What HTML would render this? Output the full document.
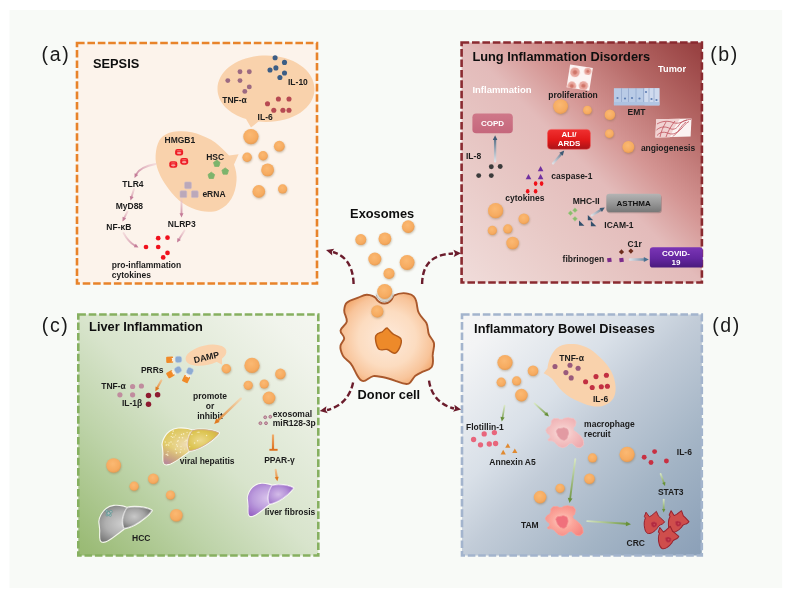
<!DOCTYPE html>
<html><head><meta charset="utf-8">
<style>
html,body{margin:0;padding:0;background:#fff;}
body{width:791px;height:596px;overflow:hidden;}
svg{display:block;filter:blur(0.35px);}
text{font-family:"Liberation Sans",sans-serif;}
.t{font-weight:700;font-size:12.8px;fill:#0e0e0e;}
.l{font-weight:700;font-size:8.5px;fill:#1c1c1c;}
.w{font-weight:700;font-size:8px;fill:#ffffff;text-anchor:middle;}
.p{font-size:19.5px;fill:#1a1a1a;letter-spacing:1.6px;}
</style></head><body>
<svg width="791" height="596" viewBox="0 0 791 596">
<defs>
<radialGradient id="ex" cx="0.45" cy="0.38" r="0.65">
 <stop offset="0" stop-color="#fbb973"/><stop offset="0.7" stop-color="#f6ab60"/><stop offset="1" stop-color="#e79a50"/>
</radialGradient>
<filter id="sh" x="-40%" y="-40%" width="180%" height="180%"><feGaussianBlur stdDeviation="0.8"/></filter>
<filter id="b1" x="-30%" y="-30%" width="160%" height="160%"><feGaussianBlur stdDeviation="0.45"/></filter>
<filter id="b2" x="-30%" y="-30%" width="160%" height="160%"><feGaussianBlur stdDeviation="1.2"/></filter>
<linearGradient id="gb" x1="0" y1="1" x2="1" y2="0">
 <stop offset="0" stop-color="#f0dcda"/><stop offset="0.285" stop-color="#e8c9c6"/><stop offset="0.5" stop-color="#e3bbba"/><stop offset="0.63" stop-color="#d49593"/><stop offset="0.725" stop-color="#c47e7c"/><stop offset="0.807" stop-color="#b56866"/><stop offset="0.97" stop-color="#9a4444"/><stop offset="1" stop-color="#964040"/>
</linearGradient>
<linearGradient id="gc" x1="0" y1="1" x2="1" y2="0">
 <stop offset="0" stop-color="#98b972"/><stop offset="0.04" stop-color="#9cbc78"/><stop offset="0.285" stop-color="#bdd3a8"/><stop offset="0.5" stop-color="#d8e4cc"/><stop offset="0.9" stop-color="#f1f4ec"/><stop offset="1" stop-color="#f4f6f0"/>
</linearGradient>
<linearGradient id="gd" x1="0" y1="0" x2="1" y2="1">
 <stop offset="0" stop-color="#f6f6f6"/><stop offset="0.09" stop-color="#f3f4f5"/><stop offset="0.356" stop-color="#d9e0e8"/><stop offset="0.5" stop-color="#c2ccd8"/><stop offset="0.75" stop-color="#a3b4c5"/><stop offset="0.955" stop-color="#8fa3ba"/><stop offset="1" stop-color="#8ba0b8"/>
</linearGradient>
<radialGradient id="gcell" cx="0.5" cy="0.5" r="0.56">
 <stop offset="0" stop-color="#fdeadb"/><stop offset="0.55" stop-color="#fcdcc0"/><stop offset="0.85" stop-color="#f8c49a"/><stop offset="1" stop-color="#f3ac74"/>
</radialGradient>
<linearGradient id="ar1" gradientUnits="userSpaceOnUse" x1="155.5" y1="164.0" x2="134.5" y2="178.0"><stop offset="0" stop-color="#ecc4cc" stop-opacity="0.5"/><stop offset="1" stop-color="#c47c98"/></linearGradient>
<linearGradient id="ar1h" gradientUnits="userSpaceOnUse" x1="155.5" y1="164.0" x2="134.5" y2="178.0"><stop offset="0" stop-color="#c47c98"/><stop offset="1" stop-color="#c47c98"/></linearGradient>
<linearGradient id="ar2" gradientUnits="userSpaceOnUse" x1="134.0" y1="189.0" x2="130.5" y2="200.5"><stop offset="0" stop-color="#ecc4cc" stop-opacity="0.5"/><stop offset="1" stop-color="#c47c98"/></linearGradient>
<linearGradient id="ar2h" gradientUnits="userSpaceOnUse" x1="134.0" y1="189.0" x2="130.5" y2="200.5"><stop offset="0" stop-color="#c47c98"/><stop offset="1" stop-color="#c47c98"/></linearGradient>
<linearGradient id="ar3" gradientUnits="userSpaceOnUse" x1="127.5" y1="211.5" x2="122.5" y2="221.5"><stop offset="0" stop-color="#ecc4cc" stop-opacity="0.5"/><stop offset="1" stop-color="#c47c98"/></linearGradient>
<linearGradient id="ar3h" gradientUnits="userSpaceOnUse" x1="127.5" y1="211.5" x2="122.5" y2="221.5"><stop offset="0" stop-color="#c47c98"/><stop offset="1" stop-color="#c47c98"/></linearGradient>
<linearGradient id="ar4" gradientUnits="userSpaceOnUse" x1="123.5" y1="233.0" x2="138.5" y2="247.5"><stop offset="0" stop-color="#ecc4cc" stop-opacity="0.5"/><stop offset="1" stop-color="#c47c98"/></linearGradient>
<linearGradient id="ar4h" gradientUnits="userSpaceOnUse" x1="123.5" y1="233.0" x2="138.5" y2="247.5"><stop offset="0" stop-color="#c47c98"/><stop offset="1" stop-color="#c47c98"/></linearGradient>
<linearGradient id="ar5" gradientUnits="userSpaceOnUse" x1="181.5" y1="199.0" x2="181.5" y2="217.5"><stop offset="0" stop-color="#ecc4cc" stop-opacity="0.5"/><stop offset="1" stop-color="#c47c98"/></linearGradient>
<linearGradient id="ar5h" gradientUnits="userSpaceOnUse" x1="181.5" y1="199.0" x2="181.5" y2="217.5"><stop offset="0" stop-color="#c47c98"/><stop offset="1" stop-color="#c47c98"/></linearGradient>
<linearGradient id="ar6" gradientUnits="userSpaceOnUse" x1="184.5" y1="230.5" x2="177.0" y2="242.5"><stop offset="0" stop-color="#ecc4cc" stop-opacity="0.5"/><stop offset="1" stop-color="#c47c98"/></linearGradient>
<linearGradient id="ar6h" gradientUnits="userSpaceOnUse" x1="184.5" y1="230.5" x2="177.0" y2="242.5"><stop offset="0" stop-color="#c47c98"/><stop offset="1" stop-color="#c47c98"/></linearGradient>
<linearGradient id="ar7" gradientUnits="userSpaceOnUse" x1="495.1" y1="161.5" x2="495.1" y2="135.2"><stop offset="0" stop-color="#dde7ee" stop-opacity="0.8"/><stop offset="1" stop-color="#3f5a74"/></linearGradient>
<linearGradient id="ar7h" gradientUnits="userSpaceOnUse" x1="495.1" y1="161.5" x2="495.1" y2="135.2"><stop offset="0" stop-color="#3f5a74"/><stop offset="1" stop-color="#3f5a74"/></linearGradient>
<linearGradient id="ar8" gradientUnits="userSpaceOnUse" x1="553.0" y1="163.5" x2="564.2" y2="150.6"><stop offset="0" stop-color="#dde7ee" stop-opacity="0.8"/><stop offset="1" stop-color="#3f5a74"/></linearGradient>
<linearGradient id="ar8h" gradientUnits="userSpaceOnUse" x1="553.0" y1="163.5" x2="564.2" y2="150.6"><stop offset="0" stop-color="#3f5a74"/><stop offset="1" stop-color="#3f5a74"/></linearGradient>
<linearGradient id="ar9" gradientUnits="userSpaceOnUse" x1="591.7" y1="215.4" x2="604.8" y2="207.4"><stop offset="0" stop-color="#dde7ee" stop-opacity="0.8"/><stop offset="1" stop-color="#3f5a74"/></linearGradient>
<linearGradient id="ar9h" gradientUnits="userSpaceOnUse" x1="591.7" y1="215.4" x2="604.8" y2="207.4"><stop offset="0" stop-color="#3f5a74"/><stop offset="1" stop-color="#3f5a74"/></linearGradient>
<linearGradient id="ar10" gradientUnits="userSpaceOnUse" x1="630.0" y1="259.5" x2="648.8" y2="259.5"><stop offset="0" stop-color="#dbe6ee" stop-opacity="0.85"/><stop offset="1" stop-color="#4a7090"/></linearGradient>
<linearGradient id="ar10h" gradientUnits="userSpaceOnUse" x1="630.0" y1="259.5" x2="648.8" y2="259.5"><stop offset="0" stop-color="#4a7090"/><stop offset="1" stop-color="#4a7090"/></linearGradient>
<linearGradient id="ar11" gradientUnits="userSpaceOnUse" x1="161.3" y1="380.5" x2="155.3" y2="391.3"><stop offset="0" stop-color="#f3c08a" stop-opacity="0.9"/><stop offset="1" stop-color="#e07a20"/></linearGradient>
<linearGradient id="ar11h" gradientUnits="userSpaceOnUse" x1="161.3" y1="380.5" x2="155.3" y2="391.3"><stop offset="0" stop-color="#e07a20"/><stop offset="1" stop-color="#e07a20"/></linearGradient>
<linearGradient id="ar12" gradientUnits="userSpaceOnUse" x1="240.8" y1="398.6" x2="214.2" y2="423.9"><stop offset="0" stop-color="#f6d4aa" stop-opacity="0.8"/><stop offset="1" stop-color="#e07a20"/></linearGradient>
<linearGradient id="ar12h" gradientUnits="userSpaceOnUse" x1="240.8" y1="398.6" x2="214.2" y2="423.9"><stop offset="0" stop-color="#e07a20"/><stop offset="1" stop-color="#e07a20"/></linearGradient>
<linearGradient id="ar13" gradientUnits="userSpaceOnUse" x1="275.7" y1="469.8" x2="277.3" y2="481.2"><stop offset="0" stop-color="#f3c08a" stop-opacity="0.9"/><stop offset="1" stop-color="#e07a20"/></linearGradient>
<linearGradient id="ar13h" gradientUnits="userSpaceOnUse" x1="275.7" y1="469.8" x2="277.3" y2="481.2"><stop offset="0" stop-color="#e07a20"/><stop offset="1" stop-color="#e07a20"/></linearGradient>
<linearGradient id="ar14" gradientUnits="userSpaceOnUse" x1="504.6" y1="405.5" x2="501.8" y2="421.6"><stop offset="0" stop-color="#d8e8c0" stop-opacity="0.9"/><stop offset="1" stop-color="#67903a"/></linearGradient>
<linearGradient id="ar14h" gradientUnits="userSpaceOnUse" x1="504.6" y1="405.5" x2="501.8" y2="421.6"><stop offset="0" stop-color="#67903a"/><stop offset="1" stop-color="#67903a"/></linearGradient>
<linearGradient id="ar15" gradientUnits="userSpaceOnUse" x1="534.5" y1="403.4" x2="549.0" y2="416.5"><stop offset="0" stop-color="#d8e8c0" stop-opacity="0.9"/><stop offset="1" stop-color="#67903a"/></linearGradient>
<linearGradient id="ar15h" gradientUnits="userSpaceOnUse" x1="534.5" y1="403.4" x2="549.0" y2="416.5"><stop offset="0" stop-color="#67903a"/><stop offset="1" stop-color="#67903a"/></linearGradient>
<linearGradient id="ar16" gradientUnits="userSpaceOnUse" x1="575.3" y1="459.2" x2="569.5" y2="503.0"><stop offset="0" stop-color="#d8e8c0" stop-opacity="0.9"/><stop offset="1" stop-color="#67903a"/></linearGradient>
<linearGradient id="ar16h" gradientUnits="userSpaceOnUse" x1="575.3" y1="459.2" x2="569.5" y2="503.0"><stop offset="0" stop-color="#67903a"/><stop offset="1" stop-color="#67903a"/></linearGradient>
<linearGradient id="ar17" gradientUnits="userSpaceOnUse" x1="587.2" y1="521.1" x2="631.0" y2="524.2"><stop offset="0" stop-color="#d8e8c0" stop-opacity="0.9"/><stop offset="1" stop-color="#67903a"/></linearGradient>
<linearGradient id="ar17h" gradientUnits="userSpaceOnUse" x1="587.2" y1="521.1" x2="631.0" y2="524.2"><stop offset="0" stop-color="#67903a"/><stop offset="1" stop-color="#67903a"/></linearGradient>
<linearGradient id="ar18" gradientUnits="userSpaceOnUse" x1="660.6" y1="473.9" x2="665.0" y2="485.9"><stop offset="0" stop-color="#d8e8c0" stop-opacity="0.9"/><stop offset="1" stop-color="#67903a"/></linearGradient>
<linearGradient id="ar18h" gradientUnits="userSpaceOnUse" x1="660.6" y1="473.9" x2="665.0" y2="485.9"><stop offset="0" stop-color="#67903a"/><stop offset="1" stop-color="#67903a"/></linearGradient>
<linearGradient id="ar19" gradientUnits="userSpaceOnUse" x1="663.7" y1="499.6" x2="663.7" y2="512.5"><stop offset="0" stop-color="#d8e8c0" stop-opacity="0.9"/><stop offset="1" stop-color="#67903a"/></linearGradient>
<linearGradient id="ar19h" gradientUnits="userSpaceOnUse" x1="663.7" y1="499.6" x2="663.7" y2="512.5"><stop offset="0" stop-color="#67903a"/><stop offset="1" stop-color="#67903a"/></linearGradient>
</defs>
<!-- page bg -->
<rect x="0" y="0" width="791" height="596" fill="#ffffff"/>
<rect x="9.5" y="10" width="772.7" height="578" fill="#f8faf7"/>

<!-- PANELS -->
<rect x="77" y="43" width="240" height="240.5" fill="#fcf3eb" stroke="#e8832a" stroke-width="2.6" stroke-dasharray="7.6 2.8"/>
<rect x="461.6" y="42.5" width="240.3" height="240" fill="url(#gb)" stroke="#8a2a30" stroke-width="2.6" stroke-dasharray="7.6 2.8"/>
<rect x="78.3" y="314.5" width="240" height="241" fill="url(#gc)" stroke="#86b060" stroke-width="2.6" stroke-dasharray="7.6 2.8"/>
<rect x="462" y="314.5" width="239.8" height="241" fill="url(#gd)" stroke="#a3b4cd" stroke-width="2.6" stroke-dasharray="7.6 2.8"/>

<!-- PANEL LETTERS -->
<text class="p" x="41.6" y="61.3">(a)</text>
<text class="p" x="710.2" y="60.8">(b)</text>
<text class="p" x="41.8" y="332.1">(c)</text>
<text class="p" x="712.2" y="332.2">(d)</text>

<!-- TITLES -->
<text class="t" x="93" y="67.5">SEPSIS</text>
<text class="t" x="472.4" y="61.1">Lung Inflammation Disorders</text>
<text class="t" x="89.1" y="331.2">Liver Inflammation</text>
<text class="t" x="474.1" y="333">Inflammatory Bowel Diseases</text>
<text class="t" x="350.1" y="217.8">Exosomes</text>
<text class="t" x="357.6" y="398.8">Donor cell</text>

<!-- center -->
<path d="M353.6,284 C353,266 346,256 333,252" fill="none" stroke="#6b1c2c" stroke-width="2.4" stroke-dasharray="6 3"/>
<path d="M0.5,0 L-7,-3.6 L-5.6,0 L-7,3.6Z" fill="#6b1c2c" transform="translate(326.5,250.2) rotate(196)"/>
<path d="M422.1,284 C422.5,264 432,254.5 453,253.5" fill="none" stroke="#6b1c2c" stroke-width="2.4" stroke-dasharray="6 3"/>
<path d="M0.5,0 L-7,-3.6 L-5.6,0 L-7,3.6Z" fill="#6b1c2c" transform="translate(460.6,253.2) rotate(-2)"/>
<path d="M353.1,382.4 C350,398 340,407 327,410" fill="none" stroke="#6b1c2c" stroke-width="2.4" stroke-dasharray="6 3"/>
<path d="M0.5,0 L-7,-3.6 L-5.6,0 L-7,3.6Z" fill="#6b1c2c" transform="translate(320.2,411) rotate(170)"/>
<path d="M429,380.6 C431,395 440,405 454,408.5" fill="none" stroke="#6b1c2c" stroke-width="2.4" stroke-dasharray="6 3"/>
<path d="M0.5,0 L-7,-3.6 L-5.6,0 L-7,3.6Z" fill="#6b1c2c" transform="translate(460.6,409.5) rotate(10)"/>
<ellipse cx="408.6" cy="227.6" rx="6.3" ry="6.3" fill="#8a6a40" opacity="0.45" filter="url(#sh)"/>
<circle cx="408.2" cy="226.6" r="6.3" fill="url(#ex)"/>
<ellipse cx="361.2" cy="240.6" rx="5.5" ry="5.5" fill="#8a6a40" opacity="0.45" filter="url(#sh)"/>
<circle cx="360.8" cy="239.6" r="5.5" fill="url(#ex)"/>
<ellipse cx="385.3" cy="239.8" rx="6.4" ry="6.4" fill="#8a6a40" opacity="0.45" filter="url(#sh)"/>
<circle cx="384.9" cy="238.8" r="6.4" fill="url(#ex)"/>
<ellipse cx="375.2" cy="260.0" rx="6.5" ry="6.5" fill="#8a6a40" opacity="0.45" filter="url(#sh)"/>
<circle cx="374.8" cy="259.0" r="6.5" fill="url(#ex)"/>
<ellipse cx="407.5" cy="263.5" rx="7.4" ry="7.4" fill="#8a6a40" opacity="0.45" filter="url(#sh)"/>
<circle cx="407.1" cy="262.5" r="7.4" fill="url(#ex)"/>
<ellipse cx="389.4" cy="274.4" rx="5.5" ry="5.5" fill="#8a6a40" opacity="0.45" filter="url(#sh)"/>
<circle cx="389.0" cy="273.4" r="5.5" fill="url(#ex)"/>
<path d="M375.9,298.2 C378,302 381,303.5 384.7,303.5 C389,303.5 392,300 393.6,295.7 C398,293.5 404,292.5 408.7,293.9 C414,295 415.5,298 416.3,301.5 C417.5,306 417,309.5 418.8,312.9 C421,317.5 424.5,319.5 426.4,323 C428.5,327 427.5,331 428.9,334.4 C430.3,338 433.3,339.8 434,343.2 C434.8,347.5 432.5,351.5 432.7,355.9 C433,360 433.8,364 431.5,367.2 C429,370.5 424.8,370.6 421.4,372.3 C418.8,373.4 417,374.5 415,376.1 C412.5,378.5 411.5,382.5 408.7,383.7 C404.5,385 400,382.5 396.1,381.1 C392,379.6 387.5,377.9 383.4,377.3 C380,376.8 376.5,375.6 373.3,376.1 C369.5,376.8 366.5,381 363.2,381.1 C360,381 358.3,377.4 356.9,374.8 C354.8,371 353.2,366.6 350.6,363.4 C348.4,360.7 344.6,358.9 343,355.9 C341.4,352.8 339.9,349 340.5,345.7 C341,342.9 344.2,340.8 344.2,338.2 C344.2,335.5 340.2,333.3 340.5,330.6 C340.9,327.2 346.2,325 346.8,321.7 C347.5,318 343.9,314 344.2,310.3 C344.4,307.6 344.8,304.6 346.8,302.8 C349.8,300 354.5,299.2 358.2,297.7 C361,296.5 364,294.5 367,294.7 C370.2,294.9 373.5,295.5 375.9,298.2Z" fill="url(#gcell)" stroke="#a9582c" stroke-width="1.9" stroke-linejoin="round"/>
<path d="M387.2,328 C389.5,330 391,332.8 393.6,334.4 C396,335.9 400.3,336.8 401.1,339.4 C401.9,341.8 400.9,344.6 399.9,347 C398.8,349.5 397.3,353 394.8,353.3 C392,353.6 389.8,350 387.2,349.5 C384.7,349 381.7,350.6 379.6,349.5 C377.4,348.3 376.4,344.5 375.9,342 C375.5,340 375,337.3 375.9,335.6 C377.2,333.2 380.2,332.7 382.2,331.8 C384,330.9 385.5,327.5 387.2,328Z" fill="#ed8a2a" stroke="#b35a1a" stroke-width="1.4" stroke-linejoin="round"/>
<path d="M376.2,293.6 A8.7,8.7 0 0 0 393.2,293.6" fill="none" stroke="#e9e6e0" stroke-width="2.2"/>
<path d="M376.2,293.6 A8.7,8.7 0 0 0 393.2,293.6" fill="none" stroke="#9a8f86" stroke-width="0.6" transform="translate(0,1.2)"/>
<ellipse cx="385.1" cy="292.5" rx="7.5" ry="7.5" fill="#8a6a40" opacity="0.45" filter="url(#sh)"/>
<circle cx="384.7" cy="291.5" r="7.5" fill="url(#ex)"/>
<ellipse cx="377.7" cy="312.4" rx="6.1" ry="6.1" fill="#8a6a40" opacity="0.45" filter="url(#sh)"/>
<circle cx="377.3" cy="311.4" r="6.1" fill="url(#ex)"/>
<!-- panel a -->
<path d="M217.5,89 C217.5,70 239,55.5 266,55.5 C293,55.5 314.5,70 314.5,89 C314.5,108 293,122 266,122 C263.5,122 261,121.9 258.5,121.6 L251,127.4 L246,119 C229,114 217.5,102.5 217.5,89Z" fill="#f9d2ac"/>
<path d="M175.9,131.5 C185,130.5 194,132 201.1,135.3 C208.5,138 214.5,141.5 218.8,145.4 C222.5,148.5 226,152 229,155.5 L238.6,154.2 L234,164.4 C236,170 237,175.5 236.5,180.8 C236,187.5 234.5,193.5 231.5,198.5 C228.5,203.5 224.5,207.5 218.8,209.9 C213.5,212.3 207,212.2 201.1,211.1 C194.5,209.8 188.5,207.2 183.4,203.6 C177.5,199.5 172.5,194.2 168.3,188.4 C164.2,183 160.5,177 158.2,170.7 C156.4,165.8 155.2,160.5 155.6,155.5 C156,150 157,144.5 159.4,140.3 C163,134.5 169.5,132.2 175.9,131.5Z" fill="#f9d2ac"/>
<ellipse cx="251.3" cy="137.6" rx="7.6" ry="7.6" fill="#8a6a40" opacity="0.45" filter="url(#sh)"/>
<circle cx="250.9" cy="136.6" r="7.6" fill="url(#ex)"/>
<ellipse cx="279.7" cy="147.2" rx="5.4" ry="5.4" fill="#8a6a40" opacity="0.45" filter="url(#sh)"/>
<circle cx="279.3" cy="146.2" r="5.4" fill="url(#ex)"/>
<ellipse cx="247.5" cy="158.3" rx="4.7" ry="4.7" fill="#8a6a40" opacity="0.45" filter="url(#sh)"/>
<circle cx="247.1" cy="157.3" r="4.7" fill="url(#ex)"/>
<ellipse cx="263.5" cy="156.8" rx="4.7" ry="4.7" fill="#8a6a40" opacity="0.45" filter="url(#sh)"/>
<circle cx="263.1" cy="155.8" r="4.7" fill="url(#ex)"/>
<ellipse cx="268.0" cy="170.9" rx="6.4" ry="6.4" fill="#8a6a40" opacity="0.45" filter="url(#sh)"/>
<circle cx="267.6" cy="169.9" r="6.4" fill="url(#ex)"/>
<ellipse cx="259.2" cy="192.4" rx="6.3" ry="6.3" fill="#8a6a40" opacity="0.45" filter="url(#sh)"/>
<circle cx="258.8" cy="191.4" r="6.3" fill="url(#ex)"/>
<ellipse cx="283.0" cy="189.9" rx="4.6" ry="4.6" fill="#8a6a40" opacity="0.45" filter="url(#sh)"/>
<circle cx="282.6" cy="188.9" r="4.6" fill="url(#ex)"/>
<g fill="#9c6a82"><circle cx="240.0" cy="71.7" r="2.45"/><circle cx="249.3" cy="71.7" r="2.45"/><circle cx="227.8" cy="80.6" r="2.45"/><circle cx="240.0" cy="80.6" r="2.45"/><circle cx="249.3" cy="86.9" r="2.45"/><circle cx="244.8" cy="91.4" r="2.45"/></g>
<g fill="#3c5d85"><circle cx="275.1" cy="57.8" r="2.55"/><circle cx="284.5" cy="62.4" r="2.55"/><circle cx="270.0" cy="70.0" r="2.55"/><circle cx="275.9" cy="67.9" r="2.55"/><circle cx="284.5" cy="73.0" r="2.55"/><circle cx="279.9" cy="77.5" r="2.55"/></g>
<g fill="#b74a52"><circle cx="278.4" cy="99.0" r="2.55"/><circle cx="289.0" cy="99.0" r="2.55"/><circle cx="267.5" cy="103.8" r="2.55"/><circle cx="273.8" cy="110.2" r="2.55"/><circle cx="282.9" cy="110.2" r="2.55"/><circle cx="289.0" cy="110.2" r="2.55"/></g>
<text class="l" x="288.0" y="85.0">IL-10</text>
<text class="l" x="222.2" y="103.3">TNF-α</text>
<text class="l" x="257.6" y="119.8">IL-6</text>
<text class="l" x="164.5" y="143.4">HMGB1</text>
<text class="l" x="206.2" y="159.8">HSC</text>
<text class="l" x="202.4" y="196.5">eRNA</text>
<text class="l" x="122.3" y="186.6">TLR4</text>
<text class="l" x="115.7" y="208.6">MyD88</text>
<text class="l" x="106.3" y="229.6">NF-κB</text>
<text class="l" x="167.8" y="227.0">NLRP3</text>
<text class="l" x="111.8" y="267.5">pro-inflammation</text>
<text class="l" x="111.8" y="277.6">cytokines</text>
<g transform="translate(179.1,152.2)"><rect x="-4" y="-3.2" width="8" height="6.6" rx="2.4" fill="#ee1c24"/><ellipse cx="0" cy="0.9" rx="2.3" ry="1.1" fill="#f7a29c"/><ellipse cx="0" cy="-1.5" rx="2.6" ry="0.7" fill="#f4605c"/></g>
<g transform="translate(184.2,161.3)"><rect x="-4" y="-3.2" width="8" height="6.6" rx="2.4" fill="#ee1c24"/><ellipse cx="0" cy="0.9" rx="2.3" ry="1.1" fill="#f7a29c"/><ellipse cx="0" cy="-1.5" rx="2.6" ry="0.7" fill="#f4605c"/></g>
<g transform="translate(173.3,164.4)"><rect x="-4" y="-3.2" width="8" height="6.6" rx="2.4" fill="#ee1c24"/><ellipse cx="0" cy="0.9" rx="2.3" ry="1.1" fill="#f7a29c"/><ellipse cx="0" cy="-1.5" rx="2.6" ry="0.7" fill="#f4605c"/></g>
<polygon points="216.8,160.1 220.1,162.5 218.9,166.4 214.7,166.4 213.5,162.5" fill="#7db46c" stroke="#7db46c" stroke-width="0.8" stroke-linejoin="round" filter="url(#b1)"/>
<polygon points="225.2,167.9 228.5,170.3 227.3,174.2 223.1,174.2 221.9,170.3" fill="#7db46c" stroke="#7db46c" stroke-width="0.8" stroke-linejoin="round" filter="url(#b1)"/>
<polygon points="211.3,172.2 214.6,174.6 213.4,178.5 209.2,178.5 208.0,174.6" fill="#7db46c" stroke="#7db46c" stroke-width="0.8" stroke-linejoin="round" filter="url(#b1)"/>
<rect x="184.6" y="181.9" width="6.8" height="6.8" rx="1.2" fill="#bba8ba" stroke="#cbbac8" stroke-width="0.6" filter="url(#b1)"/>
<rect x="180.0" y="190.79999999999998" width="6.8" height="6.8" rx="1.2" fill="#bba8ba" stroke="#cbbac8" stroke-width="0.6" filter="url(#b1)"/>
<rect x="191.4" y="190.79999999999998" width="6.8" height="6.8" rx="1.2" fill="#bba8ba" stroke="#cbbac8" stroke-width="0.6" filter="url(#b1)"/>
<g fill="#f0101c"><circle cx="158.2" cy="238.2" r="2.35"/><circle cx="167.5" cy="237.7" r="2.35"/><circle cx="146.0" cy="247.0" r="2.35"/><circle cx="158.2" cy="247.0" r="2.35"/><circle cx="167.5" cy="252.9" r="2.35"/><circle cx="163.2" cy="257.4" r="2.35"/></g>
<path d="M155.5,164.0 Q140.0,167.0 136.4,174.2" fill="none" stroke="url(#ar1)" stroke-width="1.9" stroke-linecap="round"/>
<path d="M134.5,178.0 L134.6,173.3 L138.2,175.1Z" fill="url(#ar1h)"/>
<path d="M134.0,189.0 L131.7,196.5" fill="none" stroke="url(#ar2)" stroke-width="1.9" stroke-linecap="round"/>
<path d="M130.5,200.5 L129.8,195.9 L133.7,197.1Z" fill="url(#ar2h)"/>
<path d="M127.5,211.5 L124.4,217.7" fill="none" stroke="url(#ar3)" stroke-width="1.9" stroke-linecap="round"/>
<path d="M122.5,221.5 L122.6,216.8 L126.2,218.6Z" fill="url(#ar3h)"/>
<path d="M123.5,233.0 Q128.5,242.0 134.8,245.5" fill="none" stroke="url(#ar4)" stroke-width="1.9" stroke-linecap="round"/>
<path d="M138.5,247.5 L133.8,247.2 L135.8,243.7Z" fill="url(#ar4h)"/>
<path d="M181.5,199.0 L181.5,213.3" fill="none" stroke="url(#ar5)" stroke-width="1.9" stroke-linecap="round"/>
<path d="M181.5,217.5 L179.5,213.3 L183.5,213.3Z" fill="url(#ar5h)"/>
<path d="M184.5,230.5 L179.2,238.9" fill="none" stroke="url(#ar6)" stroke-width="1.9" stroke-linecap="round"/>
<path d="M177.0,242.5 L177.5,237.9 L180.9,240.0Z" fill="url(#ar6h)"/>
<!-- panel b -->
<text class="l" x="472.4" y="93.2" style="fill:#ffffff;font-size:9.5px">Inflammation</text>
<text class="l" x="658.1" y="71.7" style="fill:#ffffff;font-size:9.2px">Tumor</text>
<text class="l" x="548.2" y="97.8">proliferation</text>
<text class="l" x="627.5" y="115.2">EMT</text>
<text class="l" x="640.9" y="150.9">angiogenesis</text>
<text class="l" x="466.0" y="159.3">IL-8</text>
<text class="l" x="551.3" y="178.5">caspase-1</text>
<text class="l" x="505.2" y="201.1">cytokines</text>
<text class="l" x="572.7" y="203.5">MHC-II</text>
<text class="l" x="604.3" y="228.4">ICAM-1</text>
<text class="l" x="562.6" y="261.8">fibrinogen</text>
<text class="l" x="627.6" y="247.3">C1r</text>
<ellipse cx="561.0" cy="107.6" rx="7.4" ry="7.4" fill="#8a6a40" opacity="0.45" filter="url(#sh)"/>
<circle cx="560.6" cy="106.6" r="7.4" fill="url(#ex)"/>
<ellipse cx="587.8" cy="111.2" rx="4.4" ry="4.4" fill="#8a6a40" opacity="0.45" filter="url(#sh)"/>
<circle cx="587.4" cy="110.2" r="4.4" fill="url(#ex)"/>
<ellipse cx="610.3" cy="115.7" rx="5.3" ry="5.3" fill="#8a6a40" opacity="0.45" filter="url(#sh)"/>
<circle cx="609.9" cy="114.7" r="5.3" fill="url(#ex)"/>
<ellipse cx="609.8" cy="134.7" rx="4.4" ry="4.4" fill="#8a6a40" opacity="0.45" filter="url(#sh)"/>
<circle cx="609.4" cy="133.7" r="4.4" fill="url(#ex)"/>
<ellipse cx="628.8" cy="147.9" rx="6.0" ry="6.0" fill="#8a6a40" opacity="0.45" filter="url(#sh)"/>
<circle cx="628.4" cy="146.9" r="6.0" fill="url(#ex)"/>
<ellipse cx="496.0" cy="211.7" rx="7.6" ry="7.6" fill="#8a6a40" opacity="0.45" filter="url(#sh)"/>
<circle cx="495.6" cy="210.7" r="7.6" fill="url(#ex)"/>
<ellipse cx="524.3" cy="219.8" rx="5.4" ry="5.4" fill="#8a6a40" opacity="0.45" filter="url(#sh)"/>
<circle cx="523.9" cy="218.8" r="5.4" fill="url(#ex)"/>
<ellipse cx="492.7" cy="231.4" rx="4.6" ry="4.6" fill="#8a6a40" opacity="0.45" filter="url(#sh)"/>
<circle cx="492.3" cy="230.4" r="4.6" fill="url(#ex)"/>
<ellipse cx="508.2" cy="229.9" rx="4.6" ry="4.6" fill="#8a6a40" opacity="0.45" filter="url(#sh)"/>
<circle cx="507.8" cy="228.9" r="4.6" fill="url(#ex)"/>
<ellipse cx="513.0" cy="244.0" rx="6.3" ry="6.3" fill="#8a6a40" opacity="0.45" filter="url(#sh)"/>
<circle cx="512.6" cy="243.0" r="6.3" fill="url(#ex)"/>
<defs><linearGradient id="gcopd" x1="0" y1="0" x2="0" y2="1"><stop offset="0" stop-color="#cf7889"/><stop offset="1" stop-color="#c5677c"/></linearGradient><linearGradient id="gali" x1="0" y1="0" x2="0" y2="1"><stop offset="0" stop-color="#f03030"/><stop offset="0.55" stop-color="#e01818"/><stop offset="1" stop-color="#a81418"/></linearGradient><linearGradient id="gast" x1="0" y1="0" x2="0" y2="1"><stop offset="0" stop-color="#b4b4b4"/><stop offset="0.5" stop-color="#989898"/><stop offset="1" stop-color="#787878"/></linearGradient><linearGradient id="gcov" x1="0" y1="0" x2="0" y2="1"><stop offset="0" stop-color="#7a35b5"/><stop offset="0.55" stop-color="#6426a0"/><stop offset="1" stop-color="#4a1a7c"/></linearGradient></defs>
<rect x="472.4" y="113.4" width="40.4" height="19.8" rx="3.8" fill="url(#gcopd)"/>
<text class="w" x="492.6" y="126.4">COPD</text>
<rect x="547.5" y="129.4" width="42.9" height="19.9" rx="3.8" fill="url(#gali)" stroke="#f25a5a" stroke-width="0.5"/>
<text class="w" x="569.0" y="137.2">ALI/</text>
<text class="w" x="569.0" y="145.8">ARDS</text>
<rect x="607" y="195" width="54.8" height="18.2" rx="3" fill="#555" opacity="0.35" filter="url(#b1)"/>
<rect x="606.3" y="193.8" width="54.8" height="18.2" rx="3" fill="url(#gast)"/>
<text class="w" x="633.7" y="205.9" style="fill:#111">ASTHMA</text>
<rect x="649.8" y="247.3" width="53" height="20.3" rx="3.2" fill="url(#gcov)"/>
<text class="w" x="676.0" y="256.0">COVID-</text>
<text class="w" x="676.0" y="264.6">19</text>
<g transform="translate(579.7,77.6) rotate(9)"><clipPath id="cpp"><rect x="-11.5" y="-11.5" width="23" height="23"/></clipPath><rect x="-11.5" y="-11.5" width="23" height="23" fill="#fcf4f3"/><g clip-path="url(#cpp)"><g fill="#e9a79e" filter="url(#b1)"><circle cx="-5.5" cy="-4.5" r="4.8"/><circle cx="7" cy="-7.5" r="3.6"/><circle cx="-6.5" cy="9.5" r="4.4"/><circle cx="5" cy="7.5" r="4.6"/></g><g fill="#cf7468" filter="url(#b1)"><circle cx="-5.5" cy="-4.5" r="2.2"/><circle cx="7" cy="-7.5" r="1.6"/><circle cx="-6.5" cy="9.5" r="2"/><circle cx="5" cy="7.5" r="2.1"/></g></g></g>
<g><rect x="613.9" y="88.2" width="45.5" height="17.1" fill="#b9cbe6"/><rect x="644.5" y="88.2" width="14.9" height="17.1" fill="#cfdaee"/><rect x="613.9" y="102" width="45.5" height="3.3" fill="#aabfe0" opacity="0.8"/><line x1="621.5" y1="88.2" x2="621.5" y2="102" stroke="#8ea4c8" stroke-width="0.7"/><line x1="628.5" y1="88.2" x2="628.5" y2="102" stroke="#8ea4c8" stroke-width="0.7"/><line x1="636" y1="88.2" x2="636" y2="102" stroke="#8ea4c8" stroke-width="0.7"/><line x1="643.5" y1="88.2" x2="643.5" y2="102" stroke="#8ea4c8" stroke-width="0.7"/><line x1="649" y1="88.2" x2="649" y2="102" stroke="#8ea4c8" stroke-width="0.7"/><line x1="654" y1="88.2" x2="654" y2="102" stroke="#8ea4c8" stroke-width="0.7"/><circle cx="617.5" cy="98" r="1.1" fill="#5f7fb4"/><circle cx="625" cy="98.5" r="1.1" fill="#5f7fb4"/><circle cx="632" cy="98" r="1.1" fill="#5f7fb4"/><circle cx="639.5" cy="98.5" r="1.1" fill="#5f7fb4"/><circle cx="646" cy="92" r="1.1" fill="#5f7fb4"/><circle cx="651.5" cy="99" r="1.1" fill="#5f7fb4"/><circle cx="656.5" cy="100" r="1.1" fill="#5f7fb4"/></g>
<g><path d="M656.2,119.2 L691.5,118.4 L690.6,136.6 L655.4,137.6Z" fill="#fbf3f2"/><path d="M656.2,119.2 L680,118.7 C676,125 672,131 670,137.2 L655.4,137.6Z" fill="#f1d2d2" filter="url(#b1)"/><g fill="none" stroke="#bd4a55" stroke-width="0.8" opacity="0.95"><path d="M657,124 C662,121 668,120.5 673,122.5 C677,124 680,123 684,121 C687,119.8 689,119.5 691,119.3"/><path d="M656.5,130 C661,126 666,126.5 670,128.5 C674,130.5 677,128 679,125 C681,122 684,120.5 687,120"/><path d="M657,135.5 C661,131 665,132 669,133.5 C673,135 677,133 679,130 C681,127 683,124 686,122"/><path d="M660,137 C661,132 663,127 666,122"/><path d="M666,137 C668,131 671,126 675,121"/><path d="M673,136.5 C676,133 679,131.5 682,128 C684,125.5 686,123 689,121.5"/></g></g>
<g fill="#3b3b3b"><circle cx="491.3" cy="166.8" r="2.45"/><circle cx="500.2" cy="166.5" r="2.45"/><circle cx="478.7" cy="175.6" r="2.45"/><circle cx="491.3" cy="175.6" r="2.45"/></g>
<path d="M495.1,161.5 L495.1,140.0" fill="none" stroke="url(#ar7)" stroke-width="2.3" stroke-linecap="round"/>
<path d="M495.1,135.2 L497.4,140.0 L492.8,140.0Z" fill="url(#ar7h)"/>
<path d="M553.0,163.5 L561.1,154.2" fill="none" stroke="url(#ar8)" stroke-width="2.3" stroke-linecap="round"/>
<path d="M564.2,150.6 L562.8,155.7 L559.3,152.7Z" fill="url(#ar8h)"/>
<path d="M591.7,215.4 L600.7,209.9" fill="none" stroke="url(#ar9)" stroke-width="2.3" stroke-linecap="round"/>
<path d="M604.8,207.4 L601.9,211.9 L599.5,207.9Z" fill="url(#ar9h)"/>
<path d="M630.0,259.5 L643.8,259.5" fill="none" stroke="url(#ar10)" stroke-width="2.4" stroke-linecap="round"/>
<path d="M648.8,259.5 L643.8,261.9 L643.8,257.1Z" fill="url(#ar10h)"/>
<path d="M540.6,166.1 L543.4,171.2 L537.8000000000001,171.2Z" fill="#7030a0"/>
<path d="M528.5,174.1 L531.3,179.2 L525.7,179.2Z" fill="#7030a0"/>
<path d="M540.6,174.1 L543.4,179.2 L537.8000000000001,179.2Z" fill="#7030a0"/>
<g fill="#f01018"><ellipse cx="535.6" cy="183.6" rx="1.8" ry="2.3"/><ellipse cx="541.6" cy="183.6" rx="1.8" ry="2.3"/><ellipse cx="527.7" cy="191.2" rx="1.8" ry="2.3"/><ellipse cx="535.6" cy="191.2" rx="1.8" ry="2.3"/></g>
<path d="M570.5,210.79999999999998 L572.9,213.2 L570.5,215.6 L568.1,213.2Z" fill="#8abb6c" stroke="#a8cf90" stroke-width="0.5"/>
<path d="M575,207.79999999999998 L577.4,210.2 L575,212.6 L572.6,210.2Z" fill="#8abb6c" stroke="#a8cf90" stroke-width="0.5"/>
<path d="M575,216.4 L577.4,218.8 L575,221.20000000000002 L572.6,218.8Z" fill="#8abb6c" stroke="#a8cf90" stroke-width="0.5"/>
<path d="M579.0,220.5 L584.4,225.70000000000002 L579.0,225.70000000000002Z" fill="#33506c"/>
<path d="M587.8,215.0 L593.1999999999999,220.20000000000002 L587.8,220.20000000000002Z" fill="#33506c"/>
<path d="M590.9,221.0 L596.3,226.20000000000002 L590.9,226.20000000000002Z" fill="#33506c"/>
<rect x="607.3" y="257.9" width="4.2" height="4.2" fill="#7c2c8c" transform="rotate(-8 609.4 260)"/>
<rect x="619.4" y="257.9" width="4.2" height="4.2" fill="#7c2c8c" transform="rotate(-8 621.5 260)"/>
<path d="M621.5,249.3 L624.1,251.9 L621.5,254.5 L618.9,251.9Z" fill="#6c2c1c"/>
<path d="M630.9,248.5 L633.5,251.1 L630.9,253.7 L628.3,251.1Z" fill="#6c2c1c"/>
<!-- panel c -->
<g transform="translate(206,355.2) rotate(-13)"><ellipse cx="0" cy="0" rx="20.8" ry="9.8" fill="#fad2ac"/><path d="M8,8 L13.5,13 L15,6Z" fill="#fad2ac"/></g>
<text class="l" x="206.4" y="360.3" text-anchor="middle" transform="rotate(-13 206.4 357.2)" style="font-size:8.8px">DAMP</text>
<text class="l" x="140.9" y="373.0">PRRs</text>
<text class="l" x="101.2" y="389.4">TNF-α</text>
<text class="l" x="121.9" y="406.2">IL-1β</text>
<text class="l" x="210.0" y="398.5" text-anchor="middle">promote</text>
<text class="l" x="210.0" y="408.5" text-anchor="middle">or</text>
<text class="l" x="210.0" y="418.9" text-anchor="middle">inhibit</text>
<text class="l" x="272.8" y="416.6">exosomal</text>
<text class="l" x="272.8" y="426.4">miR128-3p</text>
<text class="l" x="264.2" y="462.5">PPAR-γ</text>
<text class="l" x="179.8" y="463.5">viral hepatitis</text>
<text class="l" x="132.1" y="540.9">HCC</text>
<text class="l" x="264.7" y="515.3">liver fibrosis</text>
<ellipse cx="226.7" cy="369.8" rx="4.7" ry="4.7" fill="#8a6a40" opacity="0.45" filter="url(#sh)"/>
<circle cx="226.3" cy="368.8" r="4.7" fill="url(#ex)"/>
<ellipse cx="252.4" cy="366.4" rx="7.6" ry="7.6" fill="#8a6a40" opacity="0.45" filter="url(#sh)"/>
<circle cx="252.0" cy="365.4" r="7.6" fill="url(#ex)"/>
<ellipse cx="280.8" cy="374.9" rx="5.3" ry="5.3" fill="#8a6a40" opacity="0.45" filter="url(#sh)"/>
<circle cx="280.4" cy="373.9" r="5.3" fill="url(#ex)"/>
<ellipse cx="248.6" cy="386.3" rx="4.6" ry="4.6" fill="#8a6a40" opacity="0.45" filter="url(#sh)"/>
<circle cx="248.2" cy="385.3" r="4.6" fill="url(#ex)"/>
<ellipse cx="264.6" cy="385.0" rx="4.6" ry="4.6" fill="#8a6a40" opacity="0.45" filter="url(#sh)"/>
<circle cx="264.2" cy="384.0" r="4.6" fill="url(#ex)"/>
<ellipse cx="269.4" cy="398.9" rx="6.3" ry="6.3" fill="#8a6a40" opacity="0.45" filter="url(#sh)"/>
<circle cx="269.0" cy="397.9" r="6.3" fill="url(#ex)"/>
<ellipse cx="114.0" cy="466.5" rx="7.3" ry="7.3" fill="#8a6a40" opacity="0.45" filter="url(#sh)"/>
<circle cx="113.6" cy="465.5" r="7.3" fill="url(#ex)"/>
<ellipse cx="153.7" cy="479.7" rx="5.3" ry="5.3" fill="#8a6a40" opacity="0.45" filter="url(#sh)"/>
<circle cx="153.3" cy="478.7" r="5.3" fill="url(#ex)"/>
<ellipse cx="134.5" cy="487.2" rx="4.6" ry="4.6" fill="#8a6a40" opacity="0.45" filter="url(#sh)"/>
<circle cx="134.1" cy="486.2" r="4.6" fill="url(#ex)"/>
<ellipse cx="170.9" cy="496.1" rx="4.6" ry="4.6" fill="#8a6a40" opacity="0.45" filter="url(#sh)"/>
<circle cx="170.5" cy="495.1" r="4.6" fill="url(#ex)"/>
<ellipse cx="176.7" cy="516.3" rx="6.3" ry="6.3" fill="#8a6a40" opacity="0.45" filter="url(#sh)"/>
<circle cx="176.3" cy="515.3" r="6.3" fill="url(#ex)"/>
<g transform="translate(174.2,359.6) rotate(-2)"><rect x="-8" y="-3.1" width="7" height="6.2" rx="1" fill="#f08a28"/><path d="M-2.6,-1.7 Q-1.2,0 -2.6,1.7 L-0.6,1.7 L-0.6,-1.7Z" fill="#fdf3e6"/><rect x="-0.9" y="-3.1" width="1.6" height="6.2" fill="#f4f0e4" opacity="0.85"/><rect x="1" y="-3.2" width="6.6" height="6.4" rx="2.2" fill="#8dabd2"/><rect x="1" y="-3.2" width="6.6" height="6.4" rx="2.2" fill="none" stroke="#c5d4e8" stroke-width="0.5"/></g>
<g transform="translate(174.3,372) rotate(-30)"><rect x="-8" y="-3.1" width="7" height="6.2" rx="1" fill="#f08a28"/><path d="M-2.6,-1.7 Q-1.2,0 -2.6,1.7 L-0.6,1.7 L-0.6,-1.7Z" fill="#fdf3e6"/><rect x="-0.9" y="-3.1" width="1.6" height="6.2" fill="#f4f0e4" opacity="0.85"/><rect x="1" y="-3.2" width="6.6" height="6.4" rx="2.2" fill="#8dabd2"/><rect x="1" y="-3.2" width="6.6" height="6.4" rx="2.2" fill="none" stroke="#c5d4e8" stroke-width="0.5"/></g>
<g transform="translate(188,375) rotate(-64)"><rect x="-8" y="-3.1" width="7" height="6.2" rx="1" fill="#f08a28"/><path d="M-2.6,-1.7 Q-1.2,0 -2.6,1.7 L-0.6,1.7 L-0.6,-1.7Z" fill="#fdf3e6"/><rect x="-0.9" y="-3.1" width="1.6" height="6.2" fill="#f4f0e4" opacity="0.85"/><rect x="1" y="-3.2" width="6.6" height="6.4" rx="2.2" fill="#8dabd2"/><rect x="1" y="-3.2" width="6.6" height="6.4" rx="2.2" fill="none" stroke="#c5d4e8" stroke-width="0.5"/></g>
<g fill="#c08c9e"><circle cx="132.6" cy="386.5" r="2.60"/><circle cx="141.4" cy="386.0" r="2.60"/><circle cx="119.9" cy="394.8" r="2.60"/><circle cx="132.6" cy="394.8" r="2.60"/></g>
<g fill="#8e1a30"><circle cx="148.5" cy="395.6" r="2.75"/><circle cx="157.6" cy="394.8" r="2.75"/><circle cx="148.5" cy="404.2" r="2.75"/></g>
<path d="M161.3,380.5 L157.4,387.5" fill="none" stroke="url(#ar11)" stroke-width="2.1" stroke-linecap="round"/>
<path d="M155.3,391.3 L155.6,386.4 L159.3,388.5Z" fill="url(#ar11h)"/>
<path d="M240.8,398.6 L218.0,420.3" fill="none" stroke="url(#ar12)" stroke-width="2.3" stroke-linecap="round"/>
<path d="M214.2,423.9 L216.2,418.5 L219.7,422.1Z" fill="url(#ar12h)"/>
<path d="M275.7,469.8 L276.7,477.0" fill="none" stroke="url(#ar13)" stroke-width="2.1" stroke-linecap="round"/>
<path d="M277.3,481.2 L274.7,477.3 L278.7,476.8Z" fill="url(#ar13h)"/>
<defs><linearGradient id="tbar" gradientUnits="userSpaceOnUse" x1="273" y1="434" x2="273" y2="450"><stop offset="0" stop-color="#f0b070"/><stop offset="1" stop-color="#dd6f1c"/></linearGradient></defs><path d="M273,434.5 L273,449.4" stroke="url(#tbar)" stroke-width="2.2"/><path d="M269.4,449.8 H277.6" stroke="#dd6f1c" stroke-width="1.9"/>
<g fill="#cfa8b4" stroke="#9a5870" stroke-width="0.7"><circle cx="265.2" cy="417.3" r="1.45"/><circle cx="270.3" cy="416.8" r="1.45"/><circle cx="260.4" cy="423.2" r="1.45"/><circle cx="266.0" cy="423.2" r="1.45"/></g>
<defs><radialGradient id="lvyL" cx="0.42" cy="0.45" r="0.62"><stop offset="0" stop-color="#efdcb4"/><stop offset="0.45" stop-color="#e4cf78"/><stop offset="0.85" stop-color="#d9c352"/><stop offset="1" stop-color="#cdb256"/></radialGradient><radialGradient id="lvyR" cx="0.4" cy="0.5" r="0.7"><stop offset="0" stop-color="#ecd98c"/><stop offset="0.6" stop-color="#dcc450"/><stop offset="1" stop-color="#d2ae48"/></radialGradient><linearGradient id="lvy2" x1="0.7" y1="0.1" x2="0.1" y2="1"><stop offset="0.6" stop-color="#c596a0" stop-opacity="0"/><stop offset="1" stop-color="#b98a9c" stop-opacity="1"/></linearGradient><radialGradient id="lvgL" cx="0.45" cy="0.5" r="0.6"><stop offset="0" stop-color="#cfcfcf"/><stop offset="0.55" stop-color="#b0b0b0"/><stop offset="1" stop-color="#7a7a7a"/></radialGradient><radialGradient id="lvgR" cx="0.4" cy="0.45" r="0.65"><stop offset="0" stop-color="#c8c8c8"/><stop offset="0.55" stop-color="#a4a4a4"/><stop offset="1" stop-color="#6c6c6c"/></radialGradient><radialGradient id="lvpL" cx="0.45" cy="0.45" r="0.62"><stop offset="0" stop-color="#d9c4ec"/><stop offset="0.55" stop-color="#bb9bdc"/><stop offset="1" stop-color="#9a68c6"/></radialGradient><radialGradient id="lvpR" cx="0.4" cy="0.5" r="0.65"><stop offset="0" stop-color="#d3bbe8"/><stop offset="0.55" stop-color="#b592d8"/><stop offset="1" stop-color="#9866c4"/></radialGradient></defs>
<g transform="translate(162,428) scale(1.0,1.0)"><path d="M0.6,16.3 C1,13 2,11 3.1,9.2 C4.5,7 6,5 8.2,3.6 C10.5,2 13,1 16.3,0.6 C19.5,0.3 22.5,0.5 25.4,1.1 C27,1.4 29,2 30.4,2.6 C33,1.9 36,1.6 38.5,1.6 C42.5,1.6 46,1.9 49.6,2.6 C52.5,3.2 55,4 56.9,5.1 C55,7.8 52.5,10 49.6,12.2 C46,15 42.5,17.3 38.5,19.3 C35,21 31,22.3 27.4,22.8 C26.6,23.3 26,23.8 25.4,24.4 C23,26.2 20.8,27.8 18.3,29.4 C15.8,31.2 13,33 10.2,34.5 C8,35.7 5,36.8 3.1,36 C1.8,35.3 1.6,33.8 1.6,32.4 C1.4,30 1.5,27.8 1.6,25.4 C1.5,22.3 0.9,19.3 0.6,16.3Z" fill="#ffffff" stroke="#fbfbf6" stroke-width="2.4" stroke-linejoin="round" opacity="0.92" filter="url(#b1)"/><path d="M0.6,16.3 C1,13 2,11 3.1,9.2 C4.5,7 6,5 8.2,3.6 C10.5,2 13,1 16.3,0.6 C19.5,0.3 22.5,0.5 25.4,1.1 C27,1.4 29,2 30.4,2.6 C33,1.9 36,1.6 38.5,1.6 C42.5,1.6 46,1.9 49.6,2.6 C52.5,3.2 55,4 56.9,5.1 C55,7.8 52.5,10 49.6,12.2 C46,15 42.5,17.3 38.5,19.3 C35,21 31,22.3 27.4,22.8 C26.6,23.3 26,23.8 25.4,24.4 C23,26.2 20.8,27.8 18.3,29.4 C15.8,31.2 13,33 10.2,34.5 C8,35.7 5,36.8 3.1,36 C1.8,35.3 1.6,33.8 1.6,32.4 C1.4,30 1.5,27.8 1.6,25.4 C1.5,22.3 0.9,19.3 0.6,16.3Z" fill="url(#lvyL)"/><path d="M0.6,16.3 C1,13 2,11 3.1,9.2 C4.5,7 6,5 8.2,3.6 C10.5,2 13,1 16.3,0.6 C19.5,0.3 22.5,0.5 25.4,1.1 C27,1.4 29,2 30.4,2.6 C33,1.9 36,1.6 38.5,1.6 C42.5,1.6 46,1.9 49.6,2.6 C52.5,3.2 55,4 56.9,5.1 C55,7.8 52.5,10 49.6,12.2 C46,15 42.5,17.3 38.5,19.3 C35,21 31,22.3 27.4,22.8 C26.6,23.3 26,23.8 25.4,24.4 C23,26.2 20.8,27.8 18.3,29.4 C15.8,31.2 13,33 10.2,34.5 C8,35.7 5,36.8 3.1,36 C1.8,35.3 1.6,33.8 1.6,32.4 C1.4,30 1.5,27.8 1.6,25.4 C1.5,22.3 0.9,19.3 0.6,16.3Z" fill="url(#lvy2)"/><path d="M30.4,2.6 C33,1.9 36,1.6 38.5,1.6 C42.5,1.6 46,1.9 49.6,2.6 C52.5,3.2 55,4 56.9,5.1 C55,7.8 52.5,10 49.6,12.2 C46,15 42.5,17.3 38.5,19.3 C35,21 31,22.3 27.4,22.8 C26,20.5 25.6,17 25.9,14 C26.3,10 28,6 30.4,2.6Z" fill="url(#lvyR)" stroke="#cfa59a" stroke-width="0.7"/><path d="M30.4,2.6 C28,6 26.3,10 25.9,14 C25.6,17 26,20.5 27.4,22.8" fill="none" stroke="#ffffff" stroke-width="0.6" opacity="0.75" transform="translate(-0.7,0)"/></g>
<g transform="translate(162,428)" fill="#fbf3cf" opacity="0.85"><circle cx="19.5" cy="6.6" r="0.73"/><circle cx="6.7" cy="17.2" r="0.63"/><circle cx="6.0" cy="16.5" r="0.51"/><circle cx="25.1" cy="4.4" r="0.53"/><circle cx="9.3" cy="8.6" r="0.72"/><circle cx="5.4" cy="26.1" r="0.60"/><circle cx="10.4" cy="5.7" r="0.61"/><circle cx="44.6" cy="7.5" r="0.70"/><circle cx="35.6" cy="12.7" r="0.69"/><circle cx="13.5" cy="21.2" r="0.65"/><circle cx="19.0" cy="18.6" r="0.66"/><circle cx="18.3" cy="24.3" r="0.74"/><circle cx="15.4" cy="18.3" r="0.68"/><circle cx="9.0" cy="14.0" r="0.76"/><circle cx="10.8" cy="15.9" r="0.51"/><circle cx="19.0" cy="21.6" r="0.71"/><circle cx="32.6" cy="15.0" r="0.79"/><circle cx="36.9" cy="4.2" r="0.75"/><circle cx="22.7" cy="20.9" r="0.51"/><circle cx="26.5" cy="7.1" r="0.54"/><circle cx="6.0" cy="23.6" r="0.55"/><circle cx="15.6" cy="13.3" r="0.80"/><circle cx="7.1" cy="14.9" r="0.69"/><circle cx="24.2" cy="12.4" r="0.81"/><circle cx="12.0" cy="8.9" r="0.58"/><circle cx="27.7" cy="18.7" r="0.59"/><circle cx="3.2" cy="14.0" r="0.63"/><circle cx="5.8" cy="27.2" r="0.77"/><circle cx="23.0" cy="13.5" r="0.54"/><circle cx="35.3" cy="4.2" r="0.52"/><circle cx="13.6" cy="7.0" r="0.62"/><circle cx="10.7" cy="5.3" r="0.63"/><circle cx="4.3" cy="26.5" r="0.71"/><circle cx="10.6" cy="9.4" r="0.62"/><circle cx="21.6" cy="5.9" r="0.80"/><circle cx="27.7" cy="4.9" r="0.54"/><circle cx="20.5" cy="9.8" r="0.79"/><circle cx="11.2" cy="3.1" r="0.83"/><circle cx="29.9" cy="6.5" r="0.69"/><circle cx="4.4" cy="17.0" r="0.84"/><circle cx="16.3" cy="12.6" r="0.56"/><circle cx="14.4" cy="24.8" r="0.84"/><circle cx="14.6" cy="16.7" r="0.62"/><circle cx="17.3" cy="9.6" r="0.74"/></g>
<g transform="translate(98.8,505.4) scale(0.93,1.0)"><path d="M0.6,16.3 C1,13 2,11 3.1,9.2 C4.5,7 6,5 8.2,3.6 C10.5,2 13,1 16.3,0.6 C19.5,0.3 22.5,0.5 25.4,1.1 C27,1.4 29,2 30.4,2.6 C33,1.9 36,1.6 38.5,1.6 C42.5,1.6 46,1.9 49.6,2.6 C52.5,3.2 55,4 56.9,5.1 C55,7.8 52.5,10 49.6,12.2 C46,15 42.5,17.3 38.5,19.3 C35,21 31,22.3 27.4,22.8 C26.6,23.3 26,23.8 25.4,24.4 C23,26.2 20.8,27.8 18.3,29.4 C15.8,31.2 13,33 10.2,34.5 C8,35.7 5,36.8 3.1,36 C1.8,35.3 1.6,33.8 1.6,32.4 C1.4,30 1.5,27.8 1.6,25.4 C1.5,22.3 0.9,19.3 0.6,16.3Z" fill="#ffffff" stroke="#fbfbf6" stroke-width="2.4" stroke-linejoin="round" opacity="0.92" filter="url(#b1)"/><path d="M0.6,16.3 C1,13 2,11 3.1,9.2 C4.5,7 6,5 8.2,3.6 C10.5,2 13,1 16.3,0.6 C19.5,0.3 22.5,0.5 25.4,1.1 C27,1.4 29,2 30.4,2.6 C33,1.9 36,1.6 38.5,1.6 C42.5,1.6 46,1.9 49.6,2.6 C52.5,3.2 55,4 56.9,5.1 C55,7.8 52.5,10 49.6,12.2 C46,15 42.5,17.3 38.5,19.3 C35,21 31,22.3 27.4,22.8 C26.6,23.3 26,23.8 25.4,24.4 C23,26.2 20.8,27.8 18.3,29.4 C15.8,31.2 13,33 10.2,34.5 C8,35.7 5,36.8 3.1,36 C1.8,35.3 1.6,33.8 1.6,32.4 C1.4,30 1.5,27.8 1.6,25.4 C1.5,22.3 0.9,19.3 0.6,16.3Z" fill="url(#lvgL)"/><g fill="#cfe0de" fill-opacity="0.45" stroke="#4f9492" stroke-width="0.7" opacity="0.9"><circle cx="10.5" cy="8" r="1.9"/><circle cx="13" cy="6.3" r="1.4"/><circle cx="8.6" cy="5.6" r="1.3"/><circle cx="12.3" cy="9.8" r="1.2"/><circle cx="8.8" cy="9.6" r="1.1"/></g><path d="M30.4,2.6 C33,1.9 36,1.6 38.5,1.6 C42.5,1.6 46,1.9 49.6,2.6 C52.5,3.2 55,4 56.9,5.1 C55,7.8 52.5,10 49.6,12.2 C46,15 42.5,17.3 38.5,19.3 C35,21 31,22.3 27.4,22.8 C26,20.5 25.6,17 25.9,14 C26.3,10 28,6 30.4,2.6Z" fill="url(#lvgR)" stroke="#e4e4e4" stroke-width="0.7"/><path d="M30.4,2.6 C28,6 26.3,10 25.9,14 C25.6,17 26,20.5 27.4,22.8" fill="none" stroke="#ffffff" stroke-width="0.6" opacity="0.75" transform="translate(-0.7,0)"/></g>
<g transform="translate(247.3,483.4) scale(0.81,0.9)"><path d="M0.6,16.3 C1,13 2,11 3.1,9.2 C4.5,7 6,5 8.2,3.6 C10.5,2 13,1 16.3,0.6 C19.5,0.3 22.5,0.5 25.4,1.1 C27,1.4 29,2 30.4,2.6 C33,1.9 36,1.6 38.5,1.6 C42.5,1.6 46,1.9 49.6,2.6 C52.5,3.2 55,4 56.9,5.1 C55,7.8 52.5,10 49.6,12.2 C46,15 42.5,17.3 38.5,19.3 C35,21 31,22.3 27.4,22.8 C26.6,23.3 26,23.8 25.4,24.4 C23,26.2 20.8,27.8 18.3,29.4 C15.8,31.2 13,33 10.2,34.5 C8,35.7 5,36.8 3.1,36 C1.8,35.3 1.6,33.8 1.6,32.4 C1.4,30 1.5,27.8 1.6,25.4 C1.5,22.3 0.9,19.3 0.6,16.3Z" fill="#ffffff" stroke="#fbfbf6" stroke-width="2.4" stroke-linejoin="round" opacity="0.92" filter="url(#b1)"/><path d="M0.6,16.3 C1,13 2,11 3.1,9.2 C4.5,7 6,5 8.2,3.6 C10.5,2 13,1 16.3,0.6 C19.5,0.3 22.5,0.5 25.4,1.1 C27,1.4 29,2 30.4,2.6 C33,1.9 36,1.6 38.5,1.6 C42.5,1.6 46,1.9 49.6,2.6 C52.5,3.2 55,4 56.9,5.1 C55,7.8 52.5,10 49.6,12.2 C46,15 42.5,17.3 38.5,19.3 C35,21 31,22.3 27.4,22.8 C26.6,23.3 26,23.8 25.4,24.4 C23,26.2 20.8,27.8 18.3,29.4 C15.8,31.2 13,33 10.2,34.5 C8,35.7 5,36.8 3.1,36 C1.8,35.3 1.6,33.8 1.6,32.4 C1.4,30 1.5,27.8 1.6,25.4 C1.5,22.3 0.9,19.3 0.6,16.3Z" fill="url(#lvpL)"/><path d="M30.4,2.6 C33,1.9 36,1.6 38.5,1.6 C42.5,1.6 46,1.9 49.6,2.6 C52.5,3.2 55,4 56.9,5.1 C55,7.8 52.5,10 49.6,12.2 C46,15 42.5,17.3 38.5,19.3 C35,21 31,22.3 27.4,22.8 C26,20.5 25.6,17 25.9,14 C26.3,10 28,6 30.4,2.6Z" fill="url(#lvpR)" stroke="#efe6f6" stroke-width="0.7"/><path d="M30.4,2.6 C28,6 26.3,10 25.9,14 C25.6,17 26,20.5 27.4,22.8" fill="none" stroke="#ffffff" stroke-width="0.6" opacity="0.75" transform="translate(-0.7,0)"/></g>
<!-- panel d -->
<path d="M561.4,345.5 C568,343.5 575.5,343.8 581.6,345.5 C587.5,347.2 592.5,350.5 596.8,354.4 C601.8,358.5 606,363 609.4,368.3 C612.3,373 614.5,378 615.2,383.4 C616,388.8 615.8,394.5 613.2,398.6 C610.6,402.7 606.5,405.3 601.8,406.2 C596,407.3 589.8,405.8 584.1,403.7 C577.7,401.4 571.6,398.6 566.4,394.8 C561.5,391 557.5,386 553.8,380.9 C552.3,378.8 550.5,377.5 548.7,375.9 L543.7,373.3 L547.5,368.3 C547.8,364 549.2,359.5 551.3,355.6 C553.5,351.3 556.5,347.2 561.4,345.5Z" fill="#f9d2ac"/>
<text class="l" x="559.3" y="360.9">TNF-α</text>
<text class="l" x="593.0" y="402.0">IL-6</text>
<g fill="#9a5a7c"><circle cx="555.0" cy="366.5" r="2.55"/><circle cx="570.0" cy="365.2" r="2.55"/><circle cx="578.1" cy="368.3" r="2.55"/><circle cx="565.9" cy="372.6" r="2.55"/><circle cx="571.2" cy="377.9" r="2.55"/></g>
<g fill="#c23042"><circle cx="596.0" cy="376.6" r="2.55"/><circle cx="606.4" cy="375.3" r="2.55"/><circle cx="585.6" cy="381.7" r="2.55"/><circle cx="592.2" cy="387.5" r="2.55"/><circle cx="601.3" cy="386.7" r="2.55"/><circle cx="607.4" cy="386.2" r="2.55"/></g>
<ellipse cx="505.4" cy="363.5" rx="7.6" ry="7.6" fill="#8a6a40" opacity="0.45" filter="url(#sh)"/>
<circle cx="505.0" cy="362.5" r="7.6" fill="url(#ex)"/>
<ellipse cx="533.4" cy="371.8" rx="5.3" ry="5.3" fill="#8a6a40" opacity="0.45" filter="url(#sh)"/>
<circle cx="533.0" cy="370.8" r="5.3" fill="url(#ex)"/>
<ellipse cx="501.6" cy="383.2" rx="4.6" ry="4.6" fill="#8a6a40" opacity="0.45" filter="url(#sh)"/>
<circle cx="501.2" cy="382.2" r="4.6" fill="url(#ex)"/>
<ellipse cx="517.0" cy="381.9" rx="4.6" ry="4.6" fill="#8a6a40" opacity="0.45" filter="url(#sh)"/>
<circle cx="516.6" cy="380.9" r="4.6" fill="url(#ex)"/>
<ellipse cx="521.8" cy="396.1" rx="6.3" ry="6.3" fill="#8a6a40" opacity="0.45" filter="url(#sh)"/>
<circle cx="521.4" cy="395.1" r="6.3" fill="url(#ex)"/>
<ellipse cx="592.9" cy="458.9" rx="4.6" ry="4.6" fill="#8a6a40" opacity="0.45" filter="url(#sh)"/>
<circle cx="592.5" cy="457.9" r="4.6" fill="url(#ex)"/>
<ellipse cx="627.5" cy="455.3" rx="7.6" ry="7.6" fill="#8a6a40" opacity="0.45" filter="url(#sh)"/>
<circle cx="627.1" cy="454.3" r="7.6" fill="url(#ex)"/>
<ellipse cx="589.9" cy="479.7" rx="5.3" ry="5.3" fill="#8a6a40" opacity="0.45" filter="url(#sh)"/>
<circle cx="589.5" cy="478.7" r="5.3" fill="url(#ex)"/>
<ellipse cx="560.5" cy="489.3" rx="4.6" ry="4.6" fill="#8a6a40" opacity="0.45" filter="url(#sh)"/>
<circle cx="560.1" cy="488.3" r="4.6" fill="url(#ex)"/>
<ellipse cx="540.5" cy="498.1" rx="6.3" ry="6.3" fill="#8a6a40" opacity="0.45" filter="url(#sh)"/>
<circle cx="540.1" cy="497.1" r="6.3" fill="url(#ex)"/>
<text class="l" x="466.0" y="430.0">Flotillin-1</text>
<text class="l" x="584.1" y="426.7">macrophage</text>
<text class="l" x="584.1" y="436.6">recruit</text>
<text class="l" x="489.3" y="464.9">Annexin A5</text>
<text class="l" x="520.9" y="527.5">TAM</text>
<text class="l" x="626.5" y="545.6">CRC</text>
<text class="l" x="657.9" y="495.3">STAT3</text>
<text class="l" x="676.8" y="455.4">IL-6</text>
<g fill="#e8667c"><circle cx="484.2" cy="433.9" r="2.65"/><circle cx="494.4" cy="432.6" r="2.65"/><circle cx="473.6" cy="439.5" r="2.65"/><circle cx="480.5" cy="444.8" r="2.65"/><circle cx="489.3" cy="444.0" r="2.65"/><circle cx="495.6" cy="443.5" r="2.65"/></g>
<path d="M507.8,443.2 L510.40000000000003,447.8 L505.2,447.8Z" fill="#e08a32"/>
<path d="M503.2,449.79999999999995 L505.8,454.4 L500.59999999999997,454.4Z" fill="#e08a32"/>
<path d="M514.8,448.5 L517.4,453.1 L512.1999999999999,453.1Z" fill="#e08a32"/>
<g fill="#c83042"><circle cx="654.6" cy="451.6" r="2.45"/><circle cx="644.2" cy="457.2" r="2.45"/><circle cx="651.0" cy="462.5" r="2.45"/><circle cx="666.4" cy="461.0" r="2.45"/></g>
<path d="M504.6,405.5 L502.6,417.2" fill="none" stroke="url(#ar14)" stroke-width="1.7" stroke-linecap="round"/>
<path d="M501.8,421.6 L500.4,416.8 L504.7,417.5Z" fill="url(#ar14h)"/>
<path d="M534.5,403.4 L545.7,413.5" fill="none" stroke="url(#ar15)" stroke-width="1.7" stroke-linecap="round"/>
<path d="M549.0,416.5 L544.2,415.1 L547.1,411.9Z" fill="url(#ar15h)"/>
<path d="M575.3,459.2 L570.2,498.0" fill="none" stroke="url(#ar16)" stroke-width="1.9" stroke-linecap="round"/>
<path d="M569.5,503.0 L567.8,497.7 L572.5,498.4Z" fill="url(#ar16h)"/>
<path d="M587.2,521.1 L626.0,523.8" fill="none" stroke="url(#ar17)" stroke-width="1.9" stroke-linecap="round"/>
<path d="M631.0,524.2 L625.8,526.2 L626.2,521.5Z" fill="url(#ar17h)"/>
<path d="M660.6,473.9 L663.8,482.5" fill="none" stroke="url(#ar18)" stroke-width="1.8" stroke-linecap="round"/>
<path d="M665.0,485.9 L662.1,483.1 L665.4,481.9Z" fill="url(#ar18h)"/>
<path d="M663.7,499.6 L663.7,508.9" fill="none" stroke="url(#ar19)" stroke-width="1.8" stroke-linecap="round"/>
<path d="M663.7,512.5 L662.0,508.9 L665.4,508.9Z" fill="url(#ar19h)"/>
<defs><radialGradient id="mc1" cx="0.45" cy="0.5" r="0.62"><stop offset="0" stop-color="#fae2e0"/><stop offset="0.45" stop-color="#f4c4c4"/><stop offset="1" stop-color="#eeaaae"/></radialGradient><radialGradient id="mc2" cx="0.45" cy="0.5" r="0.62"><stop offset="0" stop-color="#fdd2c8"/><stop offset="0.45" stop-color="#fba79c"/><stop offset="1" stop-color="#f78680"/></radialGradient></defs>
<g><path d="M552.2,420.1 C554.2,417.9 553.7,418.8 556.7,418.6 C559.7,418.4 558.4,419.8 561.3,419.6 C564.2,419.4 562.3,418.6 565.3,418.1 C568.3,417.6 567.2,417.4 570.4,418.1 C573.6,418.8 573.2,417.7 574.9,420.1 C576.6,422.5 575.9,422.2 575.4,425.2 C574.9,428.2 572.7,426.5 573.4,429.2 C574.1,431.9 574.8,430.6 577.5,433.3 C580.2,436.0 579.5,434.3 581.5,437.3 C583.5,440.3 583.3,439.4 583.5,442.4 C583.7,445.4 584.0,444.7 582.0,446.4 C580.0,448.1 580.2,447.9 577.5,447.4 C574.8,446.9 576.3,446.2 573.9,444.9 C571.5,443.6 573.3,442.7 570.4,443.4 C567.5,444.1 568.7,445.7 565.3,446.9 C561.9,448.1 563.2,447.7 560.3,446.9 C557.4,446.1 559.1,446.3 556.7,444.4 C554.3,442.5 556.1,442.7 553.2,441.3 C550.3,439.9 549.1,442.0 548.1,440.3 C547.1,438.6 550.7,439.0 550.2,436.3 C549.7,433.6 547.6,434.9 546.6,432.2 C545.6,429.5 545.7,430.5 547.1,428.2 C548.5,425.9 549.0,427.9 550.7,425.2 C552.4,422.5 550.2,422.3 552.2,420.1Z" fill="url(#mc1)" stroke="#f3c3c4" stroke-width="0.8" filter="url(#b1)"/><path d="M556.9,430.0 C558.1,428.1 558.1,428.9 561.0,428.3 C563.9,427.7 563.2,427.2 565.6,428.3 C568.0,429.4 567.6,428.8 568.3,431.5 C569.0,434.2 568.4,433.9 567.6,436.5 C566.8,439.1 567.5,438.3 565.8,439.4 C564.1,440.5 564.8,440.5 562.6,439.9 C560.4,439.3 561.1,439.6 559.3,437.6 C557.5,435.6 558.1,436.5 557.3,434.0 C556.5,431.5 555.7,431.9 556.9,430.0Z" fill="#e29aa2" stroke="#e8aab0" stroke-width="0.8" filter="url(#b1)"/></g>
<g transform="translate(-0.5,88)"><path d="M552.2,420.1 C554.2,417.9 553.7,418.8 556.7,418.6 C559.7,418.4 558.4,419.8 561.3,419.6 C564.2,419.4 562.3,418.6 565.3,418.1 C568.3,417.6 567.2,417.4 570.4,418.1 C573.6,418.8 573.2,417.7 574.9,420.1 C576.6,422.5 575.9,422.2 575.4,425.2 C574.9,428.2 572.7,426.5 573.4,429.2 C574.1,431.9 574.8,430.6 577.5,433.3 C580.2,436.0 579.5,434.3 581.5,437.3 C583.5,440.3 583.3,439.4 583.5,442.4 C583.7,445.4 584.0,444.7 582.0,446.4 C580.0,448.1 580.2,447.9 577.5,447.4 C574.8,446.9 576.3,446.2 573.9,444.9 C571.5,443.6 573.3,442.7 570.4,443.4 C567.5,444.1 568.7,445.7 565.3,446.9 C561.9,448.1 563.2,447.7 560.3,446.9 C557.4,446.1 559.1,446.3 556.7,444.4 C554.3,442.5 556.1,442.7 553.2,441.3 C550.3,439.9 549.1,442.0 548.1,440.3 C547.1,438.6 550.7,439.0 550.2,436.3 C549.7,433.6 547.6,434.9 546.6,432.2 C545.6,429.5 545.7,430.5 547.1,428.2 C548.5,425.9 549.0,427.9 550.7,425.2 C552.4,422.5 550.2,422.3 552.2,420.1Z" fill="url(#mc2)" stroke="#f9a29a" stroke-width="0.8" filter="url(#b1)"/><path d="M556.9,430.0 C558.1,428.1 558.1,428.9 561.0,428.3 C563.9,427.7 563.2,427.2 565.6,428.3 C568.0,429.4 567.6,428.8 568.3,431.5 C569.0,434.2 568.4,433.9 567.6,436.5 C566.8,439.1 567.5,438.3 565.8,439.4 C564.1,440.5 564.8,440.5 562.6,439.9 C560.4,439.3 561.1,439.6 559.3,437.6 C557.5,435.6 558.1,436.5 557.3,434.0 C556.5,431.5 555.7,431.9 556.9,430.0Z" fill="#f0707c" stroke="#f58c8c" stroke-width="0.8" filter="url(#b1)"/></g>
<g transform="translate(654,523) rotate(0)"><path d="M-8,-10.8 L-4.6,-6.2 L-2.2,-7.6 L2.4,-11.6 L4.6,-6.6 L6.4,-5.2 L10.6,-1.2 C9.9,0 9.2,0.6 8.4,1 C7.2,1.6 5.8,1.9 4.9,2.8 C4,3.6 3.8,4.6 3.1,5.4 C2,6.9 0.4,8.3 -1.3,9.4 C-2.9,10.3 -5,10.9 -6.6,10.3 C-8.2,9.5 -8.9,7.3 -9.3,5.4 C-9.7,3.7 -9.9,1.8 -9.8,0 C-9.7,-1.8 -9.4,-3.4 -8.6,-5 L-9.6,-6.4Z" fill="#cf4e4c" stroke="#96222f" stroke-width="1" stroke-linejoin="round"/><path d="M-2.6,-0.6 C-0.8,-1.6 2.4,-1.2 3,0.8 C3.5,2.8 1.6,4.6 -0.4,4.4 C-2.4,4.2 -3.6,0.6 -2.6,-0.6Z" fill="#b22a40" stroke="#c84a54" stroke-width="0.5"/><circle cx="0.3" cy="1.6" r="0.9" fill="#c84858"/></g>
<g transform="translate(678.3,522.1) rotate(4)"><path d="M-8,-10.8 L-4.6,-6.2 L-2.2,-7.6 L2.4,-11.6 L4.6,-6.6 L6.4,-5.2 L10.6,-1.2 C9.9,0 9.2,0.6 8.4,1 C7.2,1.6 5.8,1.9 4.9,2.8 C4,3.6 3.8,4.6 3.1,5.4 C2,6.9 0.4,8.3 -1.3,9.4 C-2.9,10.3 -5,10.9 -6.6,10.3 C-8.2,9.5 -8.9,7.3 -9.3,5.4 C-9.7,3.7 -9.9,1.8 -9.8,0 C-9.7,-1.8 -9.4,-3.4 -8.6,-5 L-9.6,-6.4Z" fill="#cf4e4c" stroke="#96222f" stroke-width="1" stroke-linejoin="round"/><path d="M-2.6,-0.6 C-0.8,-1.6 2.4,-1.2 3,0.8 C3.5,2.8 1.6,4.6 -0.4,4.4 C-2.4,4.2 -3.6,0.6 -2.6,-0.6Z" fill="#b22a40" stroke="#c84a54" stroke-width="0.5"/><circle cx="0.3" cy="1.6" r="0.9" fill="#c84858"/></g>
<g transform="translate(668.2,538) rotate(-2)"><path d="M-8,-10.8 L-4.6,-6.2 L-2.2,-7.6 L2.4,-11.6 L4.6,-6.6 L6.4,-5.2 L10.6,-1.2 C9.9,0 9.2,0.6 8.4,1 C7.2,1.6 5.8,1.9 4.9,2.8 C4,3.6 3.8,4.6 3.1,5.4 C2,6.9 0.4,8.3 -1.3,9.4 C-2.9,10.3 -5,10.9 -6.6,10.3 C-8.2,9.5 -8.9,7.3 -9.3,5.4 C-9.7,3.7 -9.9,1.8 -9.8,0 C-9.7,-1.8 -9.4,-3.4 -8.6,-5 L-9.6,-6.4Z" fill="#cf4e4c" stroke="#96222f" stroke-width="1" stroke-linejoin="round"/><path d="M-2.6,-0.6 C-0.8,-1.6 2.4,-1.2 3,0.8 C3.5,2.8 1.6,4.6 -0.4,4.4 C-2.4,4.2 -3.6,0.6 -2.6,-0.6Z" fill="#b22a40" stroke="#c84a54" stroke-width="0.5"/><circle cx="0.3" cy="1.6" r="0.9" fill="#c84858"/></g>
</svg>
</body></html>
